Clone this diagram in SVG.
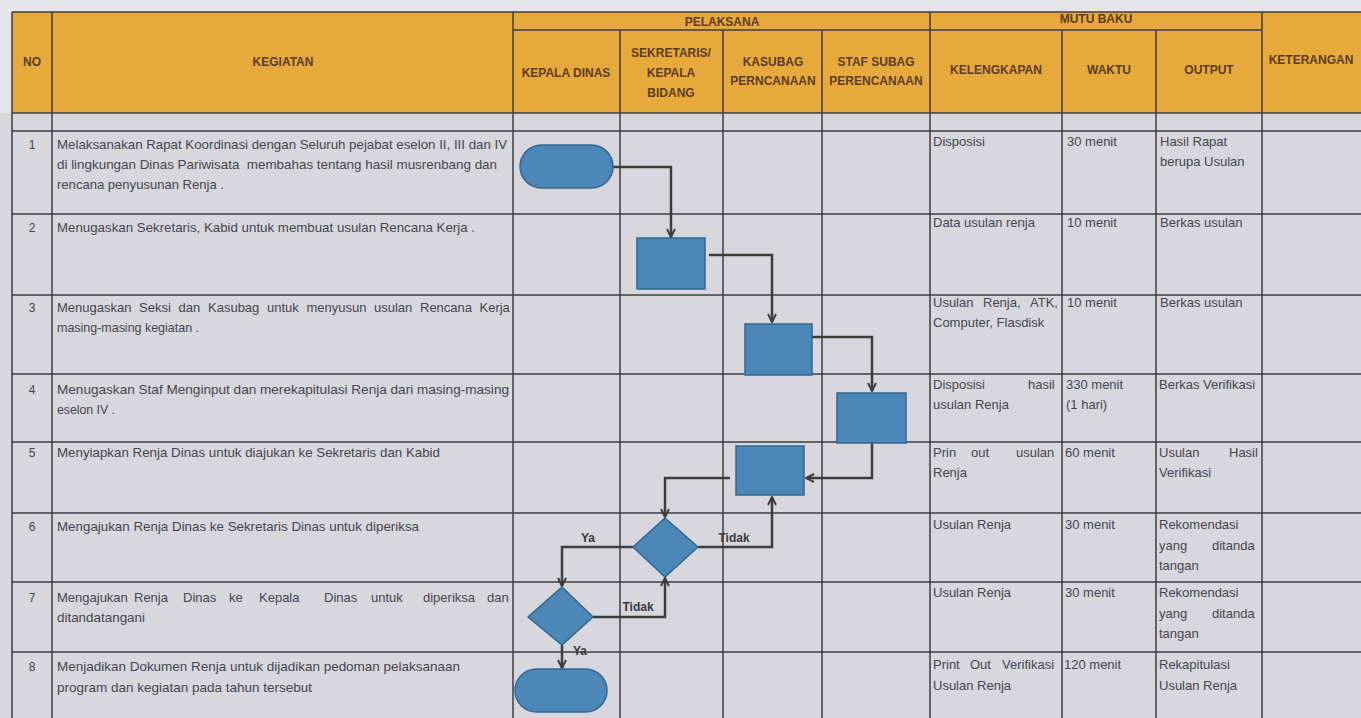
<svg xmlns="http://www.w3.org/2000/svg" width="1361" height="718" viewBox="0 0 1361 718">
<style>
.hd{font-family:"Liberation Sans",Arial,sans-serif;font-weight:bold;font-size:12px;fill:#5a3d22;text-anchor:middle}
.tx{font-family:"Liberation Sans",Arial,sans-serif;font-size:13px;fill:#45454f}
.no{font-family:"Liberation Sans",Arial,sans-serif;font-size:12px;fill:#45454f;text-anchor:middle}
.gl{stroke:#3e3e44;stroke-width:1.5;fill:none}
.sh{fill:#4d87b8;stroke:#2f6792;stroke-width:1.5}
.cn{fill:none;stroke:#3d3d3d;stroke-width:2.5;marker-end:url(#arr)}
.lb{font-family:"Liberation Sans",Arial,sans-serif;font-weight:bold;font-size:12px;fill:#3a3a3a;text-anchor:middle}
</style>
<defs>
<marker id="arr" viewBox="0 0 10 10" refX="9" refY="5" markerWidth="4" markerHeight="4" orient="auto" markerUnits="strokeWidth">
<path d="M1,1 L9,5 L1,9" fill="none" stroke="#3d3d3d" stroke-width="2"/>
</marker>
</defs>
<rect x="0" y="0" width="1361" height="718" fill="#e4e4e9"/>
<rect x="0" y="113" width="1361" height="605" fill="#d8d7de"/>
<g id="table">
<rect x="12" y="12" width="1349" height="101" fill="#e8a93c"/>
<rect x="12" y="113" width="1349" height="605" fill="#d8d7de"/>
<path class="gl" d="M12,12 H1361 M513,30 H1262 M12,113 H1361 M12,131 H1361 M12,214 H1361 M12,295 H1361 M12,374 H1361 M12,442 H1361 M12,513 H1361 M12,582 H1361 M12,652 H1361"/>
<path class="gl" d="M12,12 V718 M52,12 V718 M513,12 V718 M930,12 V718 M1262,12 V718 M620,30 V718 M723,30 V718 M822,30 V718 M1062,30 V718 M1156,30 V718"/>
<text class="hd" x="32" y="66">NO</text>
<text class="hd" x="283" y="66">KEGIATAN</text>
<text class="hd" x="722" y="26">PELAKSANA</text>
<text class="hd" x="1096" y="23">MUTU BAKU</text>
<text class="hd" x="566" y="77">KEPALA DINAS</text>
<text class="hd" x="671" y="57">SEKRETARIS/</text>
<text class="hd" x="671" y="77">KEPALA</text>
<text class="hd" x="671" y="97">BIDANG</text>
<text class="hd" x="773" y="66">KASUBAG</text>
<text class="hd" x="773" y="85">PERNCANAAN</text>
<text class="hd" x="876" y="66">STAF SUBAG</text>
<text class="hd" x="876" y="85">PERENCANAAN</text>
<text class="hd" x="996" y="74">KELENGKAPAN</text>
<text class="hd" x="1109" y="74">WAKTU</text>
<text class="hd" x="1209" y="74">OUTPUT</text>
<text class="hd" x="1311" y="64">KETERANGAN</text>
</g>
<g id="rows">
<text class="no" x="32" y="149">1</text>
<text class="tx" x="57" y="149" textLength="450" lengthAdjust="spacingAndGlyphs">Melaksanakan Rapat Koordinasi dengan Seluruh pejabat eselon II, III dan IV</text>
<text class="tx" x="57" y="169" textLength="440" lengthAdjust="spacingAndGlyphs">di lingkungan Dinas Pariwisata&#160; membahas tentang hasil musrenbang dan</text>
<text class="tx" x="57" y="189" textLength="167" lengthAdjust="spacingAndGlyphs">rencana penyusunan Renja .</text>
<text class="no" x="32" y="232">2</text>
<text class="tx" x="57" y="232" textLength="418" lengthAdjust="spacingAndGlyphs">Menugaskan Sekretaris, Kabid untuk membuat usulan Rencana Kerja .</text>
<text class="no" x="32" y="312">3</text>
<text class="tx" y="312"><tspan x="57">Menugaskan</tspan> <tspan x="139">Seksi</tspan> <tspan x="178.5">dan</tspan> <tspan x="208">Kasubag</tspan> <tspan x="267">untuk</tspan> <tspan x="306.5">menyusun</tspan> <tspan x="374">usulan</tspan> <tspan x="420">Rencana</tspan> <tspan x="479.5">Kerja</tspan></text>
<text class="tx" x="57" y="332" textLength="142" lengthAdjust="spacingAndGlyphs">masing-masing kegiatan .</text>
<text class="no" x="32" y="394">4</text>
<text class="tx" x="57" y="394" textLength="452" lengthAdjust="spacingAndGlyphs">Menugaskan Staf Menginput dan merekapitulasi Renja dari masing-masing</text>
<text class="tx" x="57" y="414" textLength="58" lengthAdjust="spacingAndGlyphs">eselon IV .</text>
<text class="no" x="32" y="457">5</text>
<text class="tx" x="57" y="457" textLength="383" lengthAdjust="spacingAndGlyphs">Menyiapkan Renja Dinas untuk diajukan ke Sekretaris dan Kabid</text>
<text class="no" x="32" y="531">6</text>
<text class="tx" x="57" y="531" textLength="362" lengthAdjust="spacingAndGlyphs">Mengajukan Renja Dinas ke Sekretaris Dinas untuk diperiksa</text>
<text class="no" x="32" y="602">7</text>
<text class="tx" y="602"><tspan x="57">Mengajukan</tspan> <tspan x="134">Renja</tspan> <tspan x="183">Dinas</tspan> <tspan x="229">ke</tspan> <tspan x="259">Kepala</tspan> <tspan x="324">Dinas</tspan> <tspan x="371">untuk</tspan> <tspan x="423">diperiksa</tspan> <tspan x="487">dan</tspan></text>
<text class="tx" x="57" y="622" textLength="88" lengthAdjust="spacingAndGlyphs">ditandatangani</text>
<text class="no" x="32" y="671">8</text>
<text class="tx" x="57" y="671" textLength="403" lengthAdjust="spacingAndGlyphs">Menjadikan Dokumen Renja untuk dijadikan pedoman pelaksanaan</text>
<text class="tx" x="57" y="692" textLength="255" lengthAdjust="spacingAndGlyphs">program dan kegiatan pada tahun tersebut</text>

<text class="tx" x="933" y="146">Disposisi</text>
<text class="tx" x="1067" y="146">30 menit</text>
<text class="tx" x="1160" y="146">Hasil Rapat</text>
<text class="tx" x="1160" y="166">berupa Usulan</text>

<text class="tx" x="933" y="227">Data usulan renja</text>
<text class="tx" x="1067" y="227">10 menit</text>
<text class="tx" x="1160" y="227">Berkas usulan</text>

<text class="tx" y="307"><tspan x="933">Usulan</tspan> <tspan x="983">Renja,</tspan> <tspan x="1030">ATK,</tspan></text>
<text class="tx" x="933" y="327">Computer, Flasdisk</text>
<text class="tx" x="1067" y="307">10 menit</text>
<text class="tx" x="1160" y="307">Berkas usulan</text>

<text class="tx" y="389"><tspan x="933">Disposisi</tspan> <tspan x="1028">hasil</tspan></text>
<text class="tx" x="933" y="409">usulan Renja</text>
<text class="tx" x="1066" y="389">330 menit</text>
<text class="tx" x="1066" y="409">(1 hari)</text>
<text class="tx" x="1159" y="389">Berkas Verifikasi</text>

<text class="tx" y="457"><tspan x="933">Prin</tspan> <tspan x="971">out</tspan> <tspan x="1016">usulan</tspan></text>
<text class="tx" x="933" y="477">Renja</text>
<text class="tx" x="1065" y="457">60 menit</text>
<text class="tx" y="457"><tspan x="1159">Usulan</tspan> <tspan x="1229">Hasil</tspan></text>
<text class="tx" x="1159" y="477">Verifikasi</text>

<text class="tx" x="933" y="529">Usulan Renja</text>
<text class="tx" x="1065" y="529">30 menit</text>
<text class="tx" x="1159" y="529">Rekomendasi</text>
<text class="tx" y="550"><tspan x="1159">yang</tspan> <tspan x="1212">ditanda</tspan></text>
<text class="tx" x="1159" y="570">tangan</text>

<text class="tx" x="933" y="597">Usulan Renja</text>
<text class="tx" x="1065" y="597">30 menit</text>
<text class="tx" x="1159" y="597">Rekomendasi</text>
<text class="tx" y="618"><tspan x="1159">yang</tspan> <tspan x="1212">ditanda</tspan></text>
<text class="tx" x="1159" y="638">tangan</text>

<text class="tx" y="669"><tspan x="933">Print</tspan> <tspan x="970">Out</tspan> <tspan x="1002">Verifikasi</tspan></text>
<text class="tx" x="933" y="690">Usulan Renja</text>
<text class="tx" x="1064" y="669">120 menit</text>
<text class="tx" x="1159" y="669">Rekapitulasi</text>
<text class="tx" x="1159" y="690">Usulan Renja</text>
</g>
<g id="connectors">
<path class="cn" d="M613,167 H671 V237"/>
<path class="cn" d="M709,255 H772 V322"/>
<path class="cn" d="M812,337 H872 V391"/>
<path class="cn" d="M872,443 V478 H806"/>
<path class="cn" d="M730,478 H665 V517"/>
<path class="cn" d="M698,547 H772 V497"/>
<path class="cn" d="M633,547 H562 V586"/>
<path class="cn" d="M593,617 H665 V578"/>
<path class="cn" d="M562,645 V668"/>
<text class="lb" x="588" y="542">Ya</text>
<text class="lb" x="734" y="542">Tidak</text>
<text class="lb" x="638" y="611">Tidak</text>
<text class="lb" x="580" y="655">Ya</text>
</g>
<g id="start"><rect class="sh" x="520" y="145" width="93" height="43" rx="21.5"/></g>
<g id="step2"><rect class="sh" x="637" y="238" width="68" height="51"/></g>
<g id="step3"><rect class="sh" x="745" y="324" width="67" height="51"/></g>
<g id="step4"><rect class="sh" x="837" y="393" width="69" height="50"/></g>
<g id="step5"><rect class="sh" x="736" y="446" width="68" height="49"/></g>
<g id="decision6"><polygon class="sh" points="665,518 698,547 665,577 633,547"/></g>
<g id="decision7"><polygon class="sh" points="562,587 593,617 562,645 528,617"/></g>
<g id="end"><rect class="sh" x="515" y="669" width="92" height="43" rx="21.5"/></g>
</svg>
